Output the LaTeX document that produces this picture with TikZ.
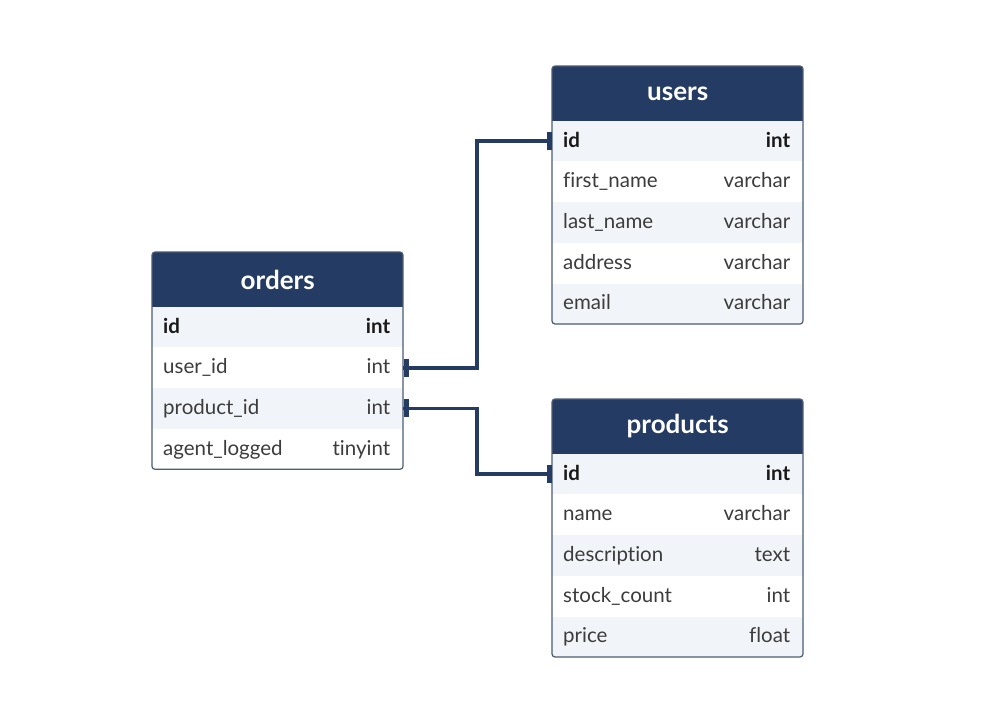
\documentclass[tikz,border=0pt]{standalone}
\usepackage{fontspec}
\setmainfont{Lato}[Ligatures={NoCommon}]
\usetikzlibrary{calc}
\definecolor{navy}{HTML}{243B63}
\definecolor{rowalt}{HTML}{F1F4F8}
\definecolor{bordc}{HTML}{4E5C72}
\definecolor{txt}{HTML}{3C3C3C}
\definecolor{keyc}{HTML}{1A1A1A}
\tikzset{
  hdr/.style={fill=navy, draw=none, minimum width=251pt, minimum height=54.5pt, inner sep=0pt, anchor=north west},
  hdrtext/.style={text=white, font=\fontsize{26}{28}\selectfont\bfseries, inner sep=0pt},
  rowbox/.style={minimum width=251pt, minimum height=40.7pt, inner sep=0pt, anchor=north west, draw=none},
  fname/.style={anchor=base west, text=txt, font=\fontsize{20.5}{22}\selectfont, inner sep=0pt},
  ftype/.style={anchor=base east, text=txt, font=\fontsize{20.5}{22}\selectfont, inner sep=0pt},
  outline/.style={draw=bordc, line width=1.2pt, rounded corners=3pt},
  link/.style={draw=navy, line width=3.8pt},
  endbar/.style={fill=navy, draw=none, minimum width=5pt, minimum height=18pt, inner sep=0pt}
}
\newcommand\erow[7]{%
  \node[rowbox, fill=#7] (#1-#2) at (#3,#4) {};
  \node[fname] (#1-#2-n) at ($(#1-#2.west)+(11,6)$) {#5};
  \node[ftype] (#1-#2-t) at ($(#1-#2.east)+(-13,6)$) {#6};
}
\newcommand\keyt[1]{{\color{keyc}\bfseries #1}}
\begin{document}
\begin{tikzpicture}[x=1pt, y=-1pt]
\path[use as bounding box, fill=white] (0,0) rectangle (987,711);

% orders
\begin{scope}
\clip[rounded corners=3pt] (152,252) rectangle (403,469.3);
\node[hdr] (o) at (152,252) {};
\node[hdrtext] (ot) at (o.center) {orders};
\erow{o}{1}{152}{306.5}{\keyt{id}}{\keyt{int}}{rowalt}
\erow{o}{2}{152}{347.2}{user\_id}{int}{white}
\erow{o}{3}{152}{387.9}{product\_id}{int}{rowalt}
\erow{o}{4}{152}{428.6}{agent\_logged}{tinyint}{white}
\end{scope}
\path[outline] (152,252) rectangle (403,469.3);

% users
\begin{scope}
\clip[rounded corners=3pt] (552,66) rectangle (803,324);
\node[hdr] (u) at (552,66) {};
\node[hdrtext] (ut) at (u.center) {users};
\erow{u}{1}{552}{120.5}{\keyt{id}}{\keyt{int}}{rowalt}
\erow{u}{2}{552}{161.2}{first\_name}{varchar}{white}
\erow{u}{3}{552}{201.9}{last\_name}{varchar}{rowalt}
\erow{u}{4}{552}{242.6}{address}{varchar}{white}
\erow{u}{5}{552}{283.3}{email}{varchar}{rowalt}
\end{scope}
\path[outline] (552,66) rectangle (803,324);

% products
\begin{scope}
\clip[rounded corners=3pt] (552,399) rectangle (803,657);
\node[hdr] (p) at (552,399) {};
\node[hdrtext] (pt) at (p.center) {products};
\erow{p}{1}{552}{453.5}{\keyt{id}}{\keyt{int}}{rowalt}
\erow{p}{2}{552}{494.2}{name}{varchar}{white}
\erow{p}{3}{552}{534.9}{description}{text}{rowalt}
\erow{p}{4}{552}{575.6}{stock\_count}{int}{white}
\erow{p}{5}{552}{616.3}{price}{float}{rowalt}
\end{scope}
\path[outline] (552,399) rectangle (803,657);

% connectors
\coordinate (jx) at (477,0);
\node[endbar, anchor=west] (m1) at (o-2.east) {};
\node[endbar, anchor=west] (m2) at (o-3.east) {};
\node[endbar, anchor=east] (m3) at (u-1.west) {};
\node[endbar, anchor=east] (m4) at (p-1.west) {};
\draw[link] (o-2.east) -- (o-2.east -| jx) |- (u-1.west);
\draw[link] (o-3.east) -- (o-3.east -| jx) |- (p-1.west);
\end{tikzpicture}
\end{document}
